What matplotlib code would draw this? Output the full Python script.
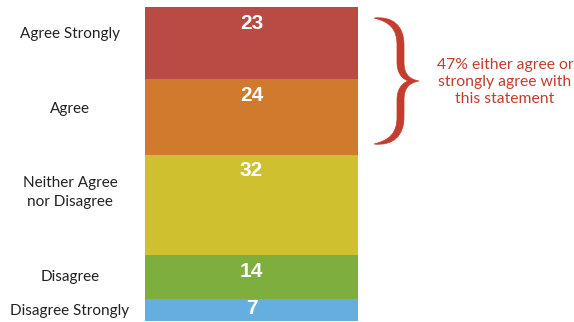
import matplotlib
matplotlib.use("Agg")
import matplotlib.pyplot as plt
from matplotlib.path import Path
from matplotlib.patches import PathPatch
from matplotlib.transforms import blended_transform_factory

categories = ["Agree Strongly", "Agree", "Neither Agree\nnor Disagree", "Disagree", "Disagree Strongly"]
values = [23, 24, 32, 14, 7]
colors = ["#B94A44", "#D07A2E", "#CFC030", "#7DAE3E", "#65AEE0"]
label_offsets = [-2.9, -2.6, -3.8, -0.1, 0.4]  # layout tweak of left labels vs segment middle
note = "47% either agree or\nstrongly agree with\nthis statement"
red = "#C33C2D"

W, H = 574, 322
fig = plt.figure(figsize=(W / 100, H / 100), dpi=100)
fig.patch.set_facecolor("white")

ax = fig.add_axes([145 / W, 1 / H, 213 / W, 314 / H])
lab_tr = blended_transform_factory(fig.transFigure, ax.transData)
bottom = 0
for cat, v, c, off in zip(categories, values, colors, label_offsets):
    ax.bar(0, v, bottom=bottom, width=1.0, color=c, edgecolor="none")
    top = bottom
    mid = bottom + v / 2
    ax.text(0, min(top + 5.2, mid - 0.5), str(v), ha="center", va="center", color="white",
            fontsize=15, fontweight="bold", family="Liberation Sans")
    ax.text(70 / W, mid + off, cat, transform=lab_tr,
            ha="center", va="center", fontsize=11, family="Lato", color="#222222", linespacing=1.45)
    bottom += v
ax.set_xlim(-0.5, 0.5)
ax.set_ylim(sum(values), 0)
ax.axis("off")

# overlay in pixel coordinates for brace and note
ov = fig.add_axes([0, 0, 1, 1], facecolor="none")
ov.set_xlim(0, W)
ov.set_ylim(H, 0)
ov.axis("off")

verts = [
    (374, 18),
    (393, 16), (404, 26), (404, 45),
    (404, 62),
    (404, 73), (408, 79), (419, 81),
    (408, 83), (404, 89), (404, 100),
    (404, 117),
    (404, 136), (393, 146), (374, 144),
    (390, 140), (397, 133), (397, 117),
    (397, 100),
    (397, 90), (401, 84), (408, 81),
    (401, 78), (397, 72), (397, 62),
    (397, 45),
    (397, 29), (390, 22), (374, 18),
    (374, 18),
]
codes = ([Path.MOVETO] + [Path.CURVE4] * 3 + [Path.LINETO] + [Path.CURVE4] * 6 + [Path.LINETO]
         + [Path.CURVE4] * 6 + [Path.LINETO] + [Path.CURVE4] * 6 + [Path.LINETO] + [Path.CURVE4] * 3
         + [Path.CLOSEPOLY])
ov.add_patch(PathPatch(Path(verts, codes), facecolor=red, edgecolor=red, linewidth=0.5))

ov.text(505, 82, note, ha="center", va="center", color=red, fontsize=11.3, family="Lato", linespacing=1.3)

fig.savefig("out.png", dpi=100)
